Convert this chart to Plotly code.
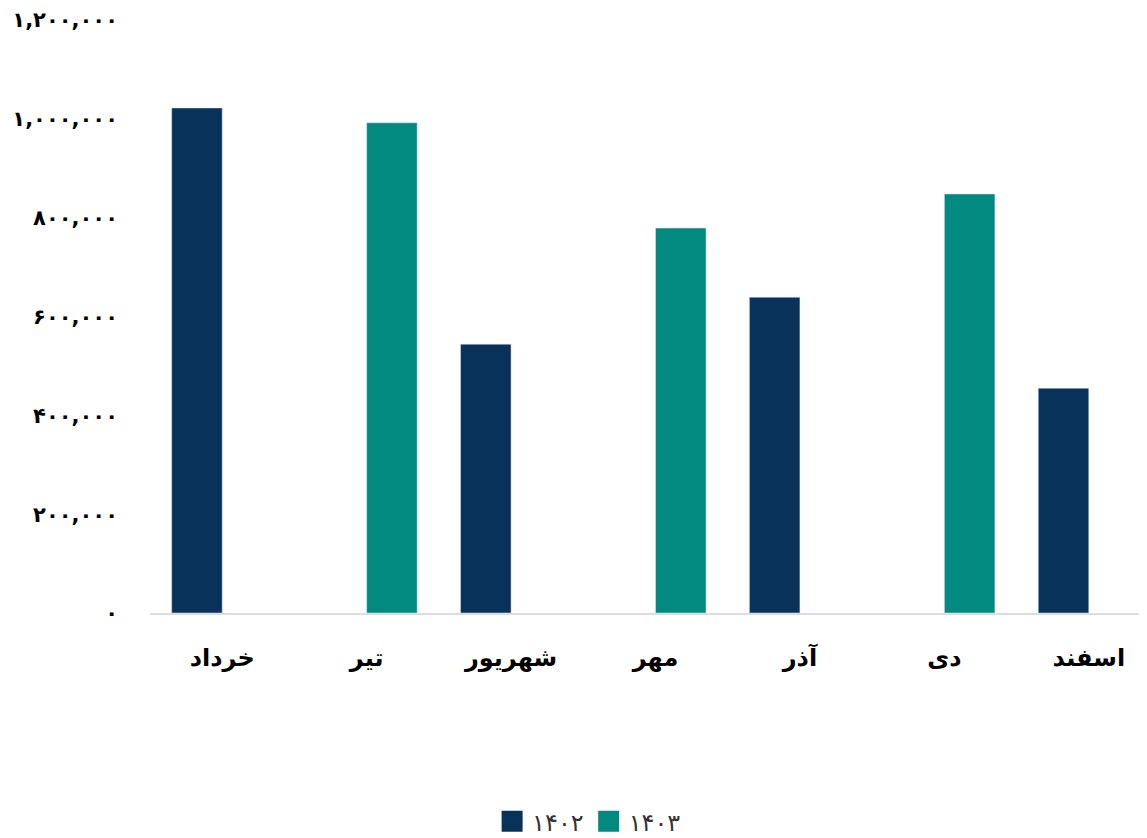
import plotly.graph_objects as go

months = ["خرداد", "تیر", "شهریور", "مهر", "آذر", "دی", "اسفند"]
series_names = ["۱۴۰۲", "۱۴۰۳"]
series_colors = ["#08325A", "#038A80"]
values_1402 = [1022000, None, 544000, None, 639000, None, 455000]
values_1403 = [None, 992000, None, 779000, None, 848000, None]
y_tickvals = [0, 200000, 400000, 600000, 800000, 1000000, 1200000]
y_ticktext = ["۰", "۲۰۰,۰۰۰", "۴۰۰,۰۰۰", "۶۰۰,۰۰۰", "۸۰۰,۰۰۰", "۱,۰۰۰,۰۰۰", "۱,۲۰۰,۰۰۰"]

fig = go.Figure()
for name, vals, col in zip(series_names, [values_1402, values_1403], series_colors):
    fig.add_trace(go.Bar(x=months, y=vals, name=name, marker_color=col,
                         showlegend=False, legendgroup=name))
    # legend entry with larger square swatch
    fig.add_trace(go.Scatter(x=[None], y=[None], mode="markers", name=name,
                             marker=dict(symbol="square", size=16, color=col,
                                         line=dict(color=col, width=5)),
                             legendgroup=name, showlegend=True))

fig.update_layout(
    width=1153, height=838,
    barmode="group", bargap=0.3, bargroupgap=0,
    plot_bgcolor="white", paper_bgcolor="white",
    margin=dict(l=142, r=0, t=12, b=233),
    font=dict(family="DejaVu Sans"),
    showlegend=True,
    legend=dict(orientation="h", xref="container", yref="container",
                x=0.504, xanchor="center", y=0.029, yanchor="middle",
                font=dict(size=24, color="#333333"), traceorder="normal",
                itemwidth=30),
)
fig.update_xaxes(showline=True, linecolor="#D9DEE3", linewidth=2, showgrid=False,
                 automargin=False,
                 ticks="", tickfont=dict(size=24, color="black", family="DejaVu Sans", weight="bold"),
                 ticklabelstandoff=22)
fig.update_yaxes(range=[0, 1200000], tickvals=y_tickvals, ticktext=y_ticktext,
                 showgrid=False, zeroline=False, showline=False, ticks="",
                 automargin=False,
                 tickfont=dict(size=21, color="black", family="DejaVu Sans", weight="bold"),
                 ticklabelstandoff=31)

fig.write_html("out.html")
